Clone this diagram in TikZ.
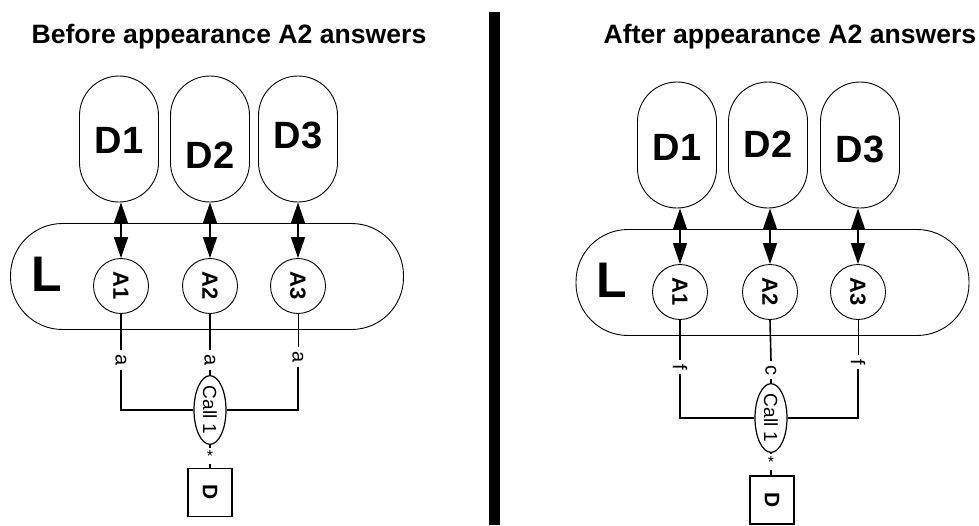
\documentclass[tikz,border=0pt]{standalone}
\usepackage{fontspec}
\setmainfont{Liberation Sans}
\usetikzlibrary{arrows.meta,shapes.geometric}
\newcommand{\fs}[1]{\fontsize{#1}{#1}\selectfont}
\begin{document}
\begin{tikzpicture}[x=1pt,y=-1pt,
  title/.style={font=\fs{26.6}\bfseries, inner sep=0},
  dblob/.style={draw, line width=0.9pt, rounded corners=39.5pt, minimum width=79pt, minimum height=126pt, inner sep=0},
  dtext/.style={font=\fs{38}\bfseries, inner sep=0},
  lbox/.style={draw, line width=0.9pt, rounded corners=52pt, minimum width=393pt, minimum height=106pt, inner sep=0},
  ltext/.style={font=\fs{50}\bfseries, inner sep=0},
  agent/.style={draw, circle, line width=0.9pt, minimum size=55pt, inner sep=0, font=\fs{22}\bfseries},
  vlabel/.style={font=\fs{20}, inner sep=4pt},
  starlabel/.style={font=\fs{16}, inner sep=2pt},
  callnode/.style={draw, ellipse, line width=1.2pt, minimum width=32pt, minimum height=63pt, inner sep=0, font=\fs{19}},
  dbox/.style={draw, line width=1.8pt, minimum width=44pt, minimum height=48pt, inner sep=0, font=\fs{21}\bfseries},
  link/.style={line width=1.6pt},
  thinlink/.style={line width=0.9pt},
  dbl/.style={line width=1.6pt, {Triangle[length=21pt,width=14pt]}-{Triangle[length=21pt,width=14pt]}}
]
\useasboundingbox (0,0) rectangle (979,525);

% divider
\fill (489,12) rectangle (500,525);

% ================= LEFT =================
\node[title] (tl) at (229,37) {Before appearance A2 answers};

\node[dblob] (lD1) at (119,139) {};
\node[dblob] (lD2) at (210,139) {};
\node[dblob] (lD3) at (298,139) {};
\node[dtext] (lD1t) at (119,140) {D1};
\node[dtext] (lD2t) at (210,155) {D2};
\node[dtext] (lD3t) at (298,135) {D3};

\node[lbox] (lL) at (207,276.5) {};
\node[ltext] (lLt) at (47,274) {L};

\node[agent] (lA1) at (121,286) {\rotatebox{-90}{A1}};
\node[agent] (lA2) at (210,286) {\rotatebox{-90}{A2}};
\node[agent] (lA3) at (298,286) {\rotatebox{-90}{A3}};

\draw[dbl] (lD1.south -| lA1.north) -- (lA1.north);
\draw[dbl] (lD2.south -| lA2.north) -- (lA2.north);
\draw[dbl] (lD3.south -| lA3.north) -- (lA3.north);

\node[vlabel] (la1) at (121,360) {\rotatebox{-90}{a}};
\node[vlabel] (la2) at (210,360) {\rotatebox{-90}{a}};
\node[vlabel] (la3) at (298,357) {\rotatebox{-90}{a}};

\node[callnode] (lC) at (210,410) {\rotatebox{-90}{Call 1}};
\node[starlabel] (ls) at (210,456) {*};
\node[dbox] (lDb) at (210,492.5) {\rotatebox{-90}{D}};

\draw[link] (lA1.south) -- (la1.north);
\draw[link] (la1.south) |- (lC.west);
\draw[link] (lA2.south) -- (la2.north);
\draw[link] (la2.south) -- (lC.north);
\draw[thinlink] (lA3.south) -- (la3.north);
\draw[link] (la3.south) |- (lC.east);
\draw[link] (lC.south) -- (ls.north);
\draw[link] (ls.south) -- (lDb.north);

% ================= RIGHT =================
\node[title] (tr) at (790,37) {After appearance A2 answers};

\node[dblob] (rD1) at (677,145) {};
\node[dblob] (rD2) at (768,145) {};
\node[dblob] (rD3) at (860,145) {};
\node[dtext] (rD1t) at (677,147) {D1};
\node[dtext] (rD2t) at (768,144) {D2};
\node[dtext] (rD3t) at (860,149) {D3};

\node[lbox] (rL) at (772.5,282.5) {};
\node[ltext] (rLt) at (612,280) {L};

\node[agent] (rA1) at (680,292) {\rotatebox{-90}{A1}};
\node[agent] (rA2) at (770,292) {\rotatebox{-90}{A2}};
\node[agent] (rA3) at (858,292) {\rotatebox{-90}{A3}};

\draw[dbl] (rD1.south -| rA1.north) -- (rA1.north);
\draw[dbl] (rD2.south -| rA2.north) -- (rA2.north);
\draw[dbl] (rD3.south -| rA3.north) -- (rA3.north);

\node[vlabel] (rf1) at (680,367) {\rotatebox{-90}{f}};
\node[vlabel] (rc2) at (771,370) {\rotatebox{-90}{c}};
\node[vlabel] (rf3) at (858,362) {\rotatebox{-90}{f}};

\node[callnode] (rC) at (771,418) {\rotatebox{-90}{Call 1}};
\node[starlabel] (rs) at (771,462) {*};
\node[dbox] (rDb) at (772,500) {\rotatebox{-90}{D}};

\draw[link] (rA1.south) -- (rf1.north);
\draw[link] (rf1.south) |- (rC.west);
\draw[link] (rA2.south) -- (rc2.north);
\draw[link] (rc2.south) -- (rC.north);
\draw[thinlink] (rA3.south) -- (rf3.north);
\draw[link] (rf3.south) |- (rC.east);
\draw[link] (rC.south) -- (rs.north);
\draw[link] (rs.south) -- (rDb.north -| rs.south);
\end{tikzpicture}
\end{document}
